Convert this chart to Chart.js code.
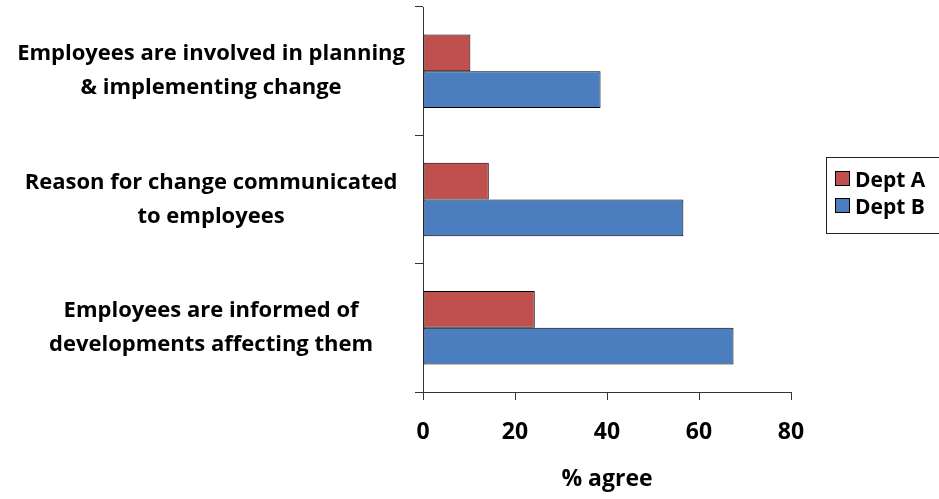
<!DOCTYPE html>
<html>
<head>
<meta charset="utf-8">
<script src="https://cdn.jsdelivr.net/npm/chart.js@4.4.1/dist/chart.umd.min.js"></script>
<style>
    html, body {
        margin: 0;
        padding: 0;
        background: #fff;
        overflow: hidden;
    }
    #wrap {
        position: relative;
        width: 939px;
        height: 499px;
    }
    #legend {
        position: absolute;
        left: 826px;
        top: 157px;
        width: 120px;
        height: 77px;
        box-sizing: border-box;
        border: 1px solid #222;
        padding: 7px 0 0 8px;
        font-family: "Open Sans", sans-serif;
        font-weight: bold;
        font-size: 21px;
        color: #000;
    }
    .legend-item {
        display: flex;
        align-items: center;
        height: 27px;
    }
    .swatch {
        display: inline-block;
        width: 15px;
        height: 15px;
        box-sizing: border-box;
        border: 1px solid #000;
        margin-right: 5px;
    }
</style>
</head>
<body>
<div id="wrap">
    <canvas id="agreeChart"></canvas>
    <div id="legend"></div>
</div>
<script>
// Survey statements, top to bottom
const statements = [
    ['Employees are involved in planning', '& implementing change'],
    ['Reason for change communicated', 'to employees'],
    ['Employees are informed of', 'developments affecting them']
];
const deptA = [10.3, 14.3, 24.3];
const deptB = [38.6, 56.6, 67.5];
const xTicks = [0, 20, 40, 60, 80];

const axisColor = '#333';
const fontFamily = '"Open Sans", sans-serif';

const ctx = document.getElementById('agreeChart').getContext('2d');
const agreeChart = new Chart(ctx, {
    type: 'bar',
    data: {
        labels: statements,
        datasets: [{
            label: 'Dept A',
            data: deptA,
            backgroundColor: '#C0504D',
            borderColor: '#000',
            borderWidth: 1,
            borderSkipped: false
        }, {
            label: 'Dept B',
            data: deptB,
            backgroundColor: '#4A7EBF',
            borderColor: '#000',
            borderWidth: 1,
            borderSkipped: false
        }]
    },
    options: {
        indexAxis: 'y',
        responsive: true,
        maintainAspectRatio: false,
        animation: false,
        layout: {
            padding: { top: 7, right: 148, bottom: 0, left: 0 }
        },
        datasets: {
            bar: {
                categoryPercentage: 0.573,
                barPercentage: 1
            }
        },
        plugins: {
            legend: { display: false },
            tooltip: { enabled: false }
        },
        scales: {
            x: {
                min: xTicks[0],
                max: xTicks[xTicks.length - 1],
                afterBuildTicks: scale => {
                    scale.ticks = xTicks.map(v => ({ value: v }));
                },
                border: { display: true, color: axisColor, width: 1 },
                grid: { drawOnChartArea: false, drawTicks: true, tickLength: 8, color: axisColor },
                ticks: {
                    padding: 19,
                    color: '#000',
                    font: { family: fontFamily, size: 23, weight: 'bold' }
                },
                title: {
                    display: true,
                    text: '% agree',
                    color: '#000',
                    padding: { top: 0, bottom: 6 },
                    font: { family: fontFamily, size: 23, weight: 'bold' }
                },
                afterFit: scale => {
                    scale.height = 107;
                }
            },
            y: {
                border: { display: true, color: axisColor, width: 1 },
                grid: { drawOnChartArea: false, drawTicks: true, tickLength: 8, color: axisColor },
                ticks: {
                    crossAlign: 'center',
                    padding: 10,
                    color: '#000',
                    font: { family: fontFamily, size: 22, weight: 'bold', lineHeight: 1.55 }
                },
                afterFit: scale => {
                    scale.width = 423;
                    scale.paddingTop = 0;
                    scale.paddingBottom = 0;
                }
            }
        }
    }
});

// Build the boxed legend from the datasets
const legendBox = document.getElementById('legend');
agreeChart.data.datasets.forEach(ds => {
    const item = document.createElement('div');
    item.className = 'legend-item';
    item.innerHTML = `<span class="swatch" style="background:${ds.backgroundColor}"></span>${ds.label}`;
    legendBox.appendChild(item);
});
</script>
</body>
</html>
